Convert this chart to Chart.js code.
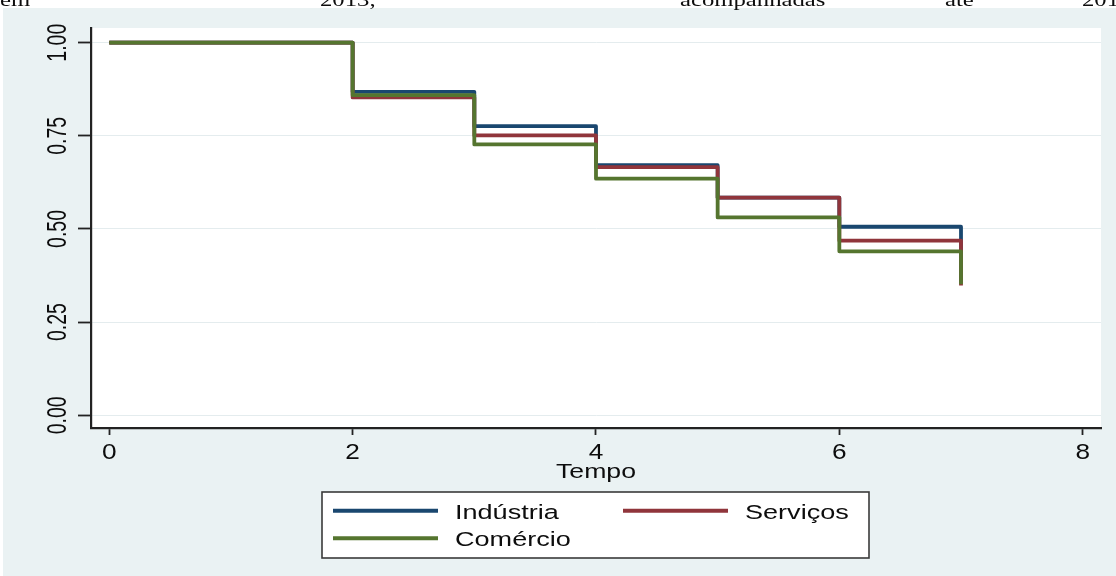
<!DOCTYPE html>
<html>
<head>
<meta charset="utf-8">
<script src="https://cdn.jsdelivr.net/npm/chart.js@4/dist/chart.umd.min.js"></script>
<style>
  html, body { margin: 0; padding: 0; background: #ffffff; overflow: hidden; }
  canvas { display: block; }
</style>
</head>
<body>
<canvas id="km" width="1116" height="576"></canvas>
<script>
// Kaplan-Meier survival estimates by sector
const times = [0, 2, 3, 4, 5, 6, 7];
const industria = [1.000, 0.868, 0.776, 0.671, 0.584, 0.506, 0.360];
const servicos  = [1.000, 0.853, 0.751, 0.666, 0.584, 0.469, 0.348];
const comercio  = [1.000, 0.859, 0.727, 0.635, 0.531, 0.440, 0.352];
const seriesNames = ['Indústria', 'Serviços', 'Comércio'];

const xTicks = [0, 2, 4, 6, 8];
const xTickLabels = ['0', '2', '4', '6', '8'];
const yTicks = [0, 0.25, 0.5, 0.75, 1];
const yTickLabels = ['0.00', '0.25', '0.50', '0.75', '1.00'];
const xTitle = 'Tempo';

// running text of the page the figure sits in (only its lower edge shows)
const headerWords = ['em', '2013,', 'acompanhadas', 'até', '201'];
const headerX = [0, 320, 680, 945, 1082];

const COLORS = ['#1a476f', '#90353b', '#55752f'];
const REGION_BG = '#eaf2f3';
const SANS = '"Liberation Sans", Arial, sans-serif';
const SERIF = '"Liberation Serif", "Times New Roman", serif';
const INK = '#0d0d0d';

function toPoints(ys) { return times.map((t, i) => ({ x: t, y: ys[i] })); }

// text drawn with a horizontal stretch (Stata's wide export look)
function wideText(ctx, txt, x, y, size, sx, align, family) {
  ctx.save();
  ctx.translate(x, y);
  ctx.scale(sx, 1);
  ctx.font = size + 'px ' + family;
  ctx.textAlign = align;
  ctx.textBaseline = 'alphabetic';
  ctx.fillStyle = INK;
  ctx.fillText(txt, 0, 0);
  ctx.restore();
}

const backdrop = {
  id: 'backdrop',
  beforeDraw(chart) {
    const ctx = chart.ctx, a = chart.chartArea;
    ctx.save();
    ctx.fillStyle = '#ffffff';
    ctx.fillRect(0, 0, chart.width, chart.height);
    ctx.fillStyle = REGION_BG;
    ctx.fillRect(3, 8, chart.width - 3, chart.height - 8);
    ctx.fillStyle = '#ffffff';
    ctx.fillRect(a.left, a.top, a.right - a.left, a.bottom - a.top);
    ctx.restore();
    headerWords.forEach((w, i) => wideText(ctx, w, headerX[i], 5.5, 19, 1.3, 'left', SERIF));
  }
};

const annotations = {
  id: 'annotations',
  afterDraw(chart) {
    const ctx = chart.ctx, a = chart.chartArea;
    const xs = chart.scales.x, ys = chart.scales.y;

    // y tick labels, rotated to read bottom-to-top
    yTicks.forEach((v, i) => {
      const py = ys.getPixelForValue(v);
      ctx.save();
      ctx.translate(66, py);
      ctx.rotate(-Math.PI / 2);
      ctx.scale(1, 1.4);
      ctx.font = '19.5px ' + SANS;
      ctx.textAlign = 'center';
      ctx.textBaseline = 'alphabetic';
      ctx.fillStyle = INK;
      ctx.fillText(yTickLabels[i], 0, 0);
      ctx.restore();
    });

    // x tick labels and axis title
    xTicks.forEach((v, i) => {
      wideText(ctx, xTickLabels[i], xs.getPixelForValue(v), 458.5, 21.5, 1.22, 'center', SANS);
    });
    wideText(ctx, xTitle, (a.left + a.right) / 2, 477.5, 20.5, 1.3, 'center', SANS);

    // legend box
    const box = { l: 322, t: 492, r: 869, b: 558 };
    ctx.save();
    ctx.fillStyle = '#ffffff';
    ctx.fillRect(box.l, box.t, box.r - box.l, box.b - box.t);
    ctx.strokeStyle = '#3a3a3a';
    ctx.lineWidth = 1.6;
    ctx.strokeRect(box.l, box.t, box.r - box.l, box.b - box.t);
    ctx.restore();

    const slots = [
      { x: 333, y: 510.7 },
      { x: 623, y: 510.7 },
      { x: 333, y: 538.3 }
    ];
    chart.data.datasets.forEach((ds, i) => {
      const s = slots[i];
      ctx.save();
      ctx.strokeStyle = ds.borderColor;
      ctx.lineWidth = 4;
      ctx.lineCap = 'butt';
      ctx.beginPath();
      ctx.moveTo(s.x, s.y);
      ctx.lineTo(s.x + 105, s.y);
      ctx.stroke();
      ctx.restore();
      wideText(ctx, ds.label, s.x + 122, s.y + 8, 20.5, 1.32, 'left', SANS);
    });
  }
};

new Chart(document.getElementById('km'), {
  type: 'line',
  data: {
    datasets: [
      { label: seriesNames[0], data: toPoints(industria), borderColor: COLORS[0], order: 3 },
      { label: seriesNames[1], data: toPoints(servicos),  borderColor: COLORS[1], order: 2 },
      { label: seriesNames[2], data: toPoints(comercio),  borderColor: COLORS[2], order: 1 }
    ].map(d => Object.assign(d, {
      stepped: 'before',
      borderWidth: 3.8,
      borderJoinStyle: 'round',
      borderCapStyle: 'butt',
      pointRadius: 0,
      fill: false,
      tension: 0
    }))
  },
  options: {
    responsive: false,
    animation: false,
    devicePixelRatio: 1,
    events: [],
    layout: { padding: { left: 91, right: 15, top: 28, bottom: 148 } },
    plugins: { legend: { display: false }, tooltip: { enabled: false } },
    scales: {
      x: {
        type: 'linear',
        min: -0.1504,
        max: 8.1506,
        afterBuildTicks: s => { s.ticks = xTicks.map(v => ({ value: v })); },
        afterFit: s => { s.height = 0; },
        ticks: { display: false },
        grid: { color: 'rgba(0,0,0,0)', drawTicks: true, tickLength: 7, tickColor: '#222', tickWidth: 1.8 },
        border: { display: true, color: '#222', width: 2.2 }
      },
      y: {
        type: 'linear',
        min: -0.0341,
        max: 1.0394,
        afterBuildTicks: s => { s.ticks = yTicks.map(v => ({ value: v })); },
        afterFit: s => { s.width = 0; },
        ticks: { display: false },
        grid: { color: '#e4ecee', lineWidth: 1, drawTicks: true, tickLength: 13, tickColor: '#222', tickWidth: 1.8 },
        border: { display: true, color: '#222', width: 2.2 }
      }
    }
  },
  plugins: [backdrop, annotations]
});
</script>
</body>
</html>
